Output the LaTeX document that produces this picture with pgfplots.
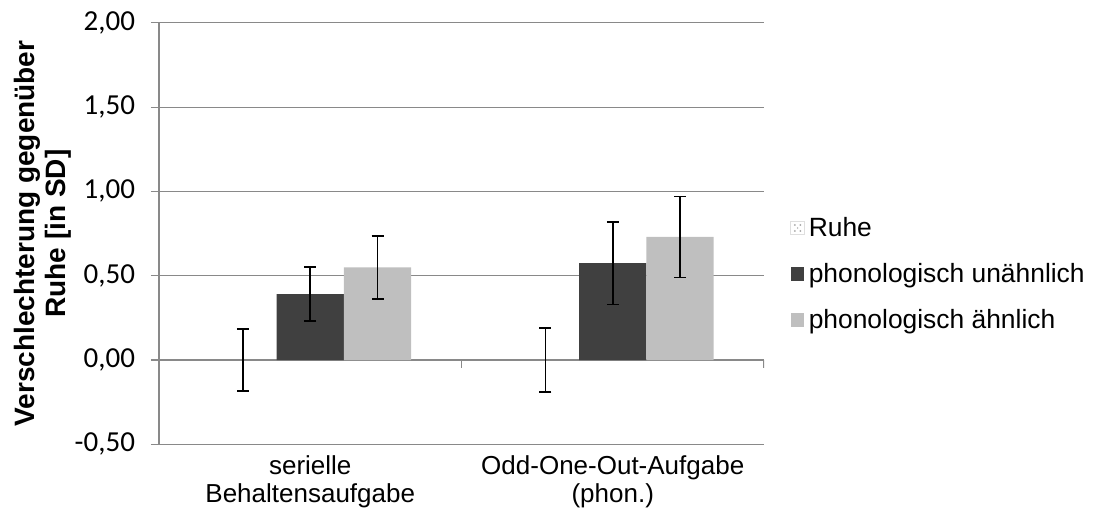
\documentclass[border=0pt]{standalone}
\usepackage{pgfplots}
\pgfplotsset{compat=1.18}
\usepackage{fontspec}
\setmainfont{Liberation Sans}
\newfontfamily\calibri{Carlito}

\definecolor{gridgray}{RGB}{137,137,137}
\definecolor{darkbar}{RGB}{64,64,64}
\definecolor{lightbar}{RGB}{191,191,191}

\begin{document}
\begin{tikzpicture}
\begin{axis}[
  at={(0,0)}, anchor=south west,
  scale only axis,
  width=302.5pt, height=210.75pt,
  xmin=-0.5, xmax=1.5,
  ymin=-0.5, ymax=2,
  ytick={-0.5,0,0.5,1,1.5,2},
  xtick={0,1},
  xticklabels={serielle\\Behaltensaufgabe, Odd-One-Out-Aufgabe\\(phon.)},
  xticklabel style={align=center, font=\fontsize{13}{14}\selectfont, yshift=2pt},
  x tick style={draw=none},
  axis x line*=bottom,
  axis y line*=left,
  axis line style={gridgray, line width=0.6pt, -},
  y tick style={gridgray, line width=0.6pt},
  tick align=outside,
  major tick length=4pt,
  ymajorgrids,
  grid style={gridgray, line width=0.6pt},
  yticklabel style={font=\calibri\fontsize{14.5}{16}\selectfont, anchor=east, xshift=-4.5pt},
  /pgf/number format/.cd, fixed, fixed zerofill, precision=2, use comma, assume math mode=true,
  /pgfplots/.cd,
  ylabel={Verschlechterung gegenüber\\Ruhe [in SD]},
  ylabel style={align=center, font=\bfseries\fontsize{14}{15.5}\selectfont,
    at={(axis description cs:-0.192,0.5)}, anchor=center},
  ybar, bar width=0.2224,
  error bars/y dir=both, error bars/y explicit,
  error bars/error mark options={rotate=90, mark size=3pt, line width=0.8pt, black},
  error bars/error bar style={line width=0.8pt, black},
  legend style={at={(1.033,0.5594)}, anchor=north west, draw=none,
    font=\fontsize{13.2}{14}\selectfont, row sep=8pt},
  legend cell align=left,
]
% Ruhe: zero bars, only the error bars are visible
\addplot[draw=none, fill=none, bar shift=-0.2224,
  legend image code/.code={
    \draw[draw=gray!25, fill=white] (0pt,-3.4pt) rectangle (6.8pt,3.4pt);
    \fill[gray!70] (2pt,-1.5pt) circle (0.5pt) (4.8pt,-1.5pt) circle (0.5pt)
                   (2pt,1.5pt) circle (0.5pt) (4.8pt,1.5pt) circle (0.5pt)
                   (3.4pt,0pt) circle (0.4pt);
  }]
  coordinates {(0,0) +- (0,0.184) (1,0) +- (0,0.189)};
\addlegendentry{Ruhe}
\addplot[draw=none, fill=darkbar, bar shift=0,
  legend image code/.code={\fill[darkbar] (0pt,-3.4pt) rectangle (6.8pt,3.4pt);}]
  coordinates {(0,0.39) +- (0,0.16) (1,0.575) +- (0,0.245)};
\addlegendentry{phonologisch unähnlich}
\addplot[draw=none, fill=lightbar, bar shift=0.2224,
  legend image code/.code={\fill[lightbar] (0pt,-3.4pt) rectangle (6.8pt,3.4pt);}]
  coordinates {(0,0.55) +- (0,0.187) (1,0.73) +- (0,0.24)};
\addlegendentry{phonologisch ähnlich}
% category separators on the zero line
\draw[gridgray, line width=0.6pt] (axis cs:-0.5,0) -- ([yshift=-4pt]axis cs:-0.5,0);
\draw[gridgray, line width=0.6pt] (axis cs:0.5,0) -- ([yshift=-4pt]axis cs:0.5,0);
\draw[gridgray, line width=0.6pt] (axis cs:1.5,0) -- ([yshift=-4pt]axis cs:1.5,0);
\end{axis}
\pgfresetboundingbox
\path (-79.5pt,-32.35pt) rectangle (467pt,222.15pt);
\end{tikzpicture}
\end{document}
